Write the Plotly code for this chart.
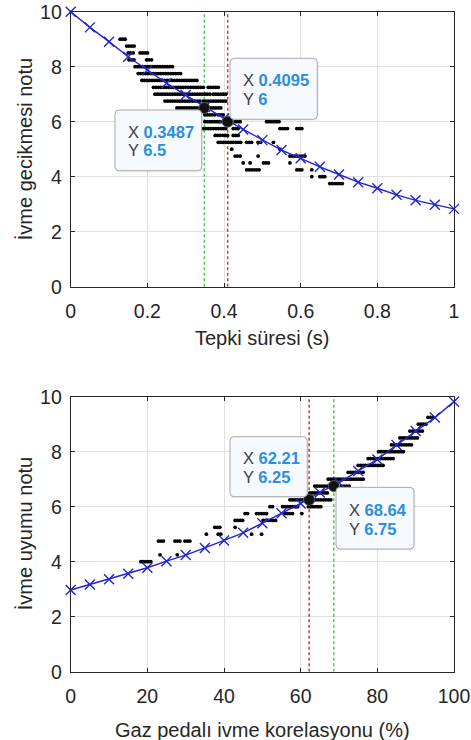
import numpy as np
import plotly.graph_objects as go

W, H = 471, 740

# ---------------- Panel 1: İvme gecikmesi notu vs Tepki süresi ----------------
tepki_curve_x = [0.00, 0.05, 0.10, 0.15, 0.20, 0.25, 0.30, 0.35, 0.40, 0.45, 0.50,
                 0.55, 0.60, 0.65, 0.70, 0.75, 0.80, 0.85, 0.90, 0.95, 1.00]
tepki_curve_y = [10.0, 9.43, 8.91, 8.36, 7.88, 7.40, 6.97, 6.53, 6.12, 5.72, 5.33,
                 4.97, 4.67, 4.36, 4.08, 3.80, 3.58, 3.34, 3.14, 2.98, 2.83]

# measured samples: score level -> runs of reaction times (start, end)
tepki_levels = [9.0, 8.75, 8.5, 8.25, 8.0, 7.75, 7.5, 7.25, 7.0, 6.75, 6.5, 6.25,
                6.0, 5.75, 5.5, 5.25, 5.0, 4.75, 4.5, 4.25, 4.0, 3.75]
tepki_runs = [
    [(0.129, 0.144)],
    [(0.146, 0.165)],
    [(0.150, 0.163), (0.181, 0.198)],
    [(0.152, 0.162), (0.198, 0.214)],
    [(0.168, 0.263)],
    [(0.176, 0.285)],
    [(0.186, 0.330)],
    [(0.216, 0.346), (0.359, 0.385)],
    [(0.220, 0.363), (0.372, 0.407)],
    [(0.246, 0.337), (0.346, 0.407)],
    [(0.277, 0.342), (0.359, 0.394)],
    [(0.350, 0.377), (0.385, 0.400)],
    [(0.350, 0.398), (0.429, 0.442), (0.511, 0.542)],
    [(0.346, 0.407), (0.424, 0.436), (0.546, 0.564), (0.590, 0.603)],
    [(0.377, 0.407), (0.424, 0.436)],
    [(0.385, 0.442), (0.459, 0.472), (0.489, 0.498), (0.529, 0.529)],
    [(0.420, 0.420), (0.546, 0.546)],
    [(0.429, 0.442), (0.489, 0.489), (0.572, 0.611)],
    [(0.450, 0.450), (0.468, 0.468), (0.503, 0.516), (0.572, 0.572)],
    [(0.459, 0.494), (0.590, 0.603), (0.629, 0.629)],
    [(0.629, 0.629), (0.650, 0.664)],
    [(0.676, 0.707)],
]
tepki_step = 0.0065

tepki_tip_x = [0.3487, 0.4095]
tepki_tip_y = [6.5, 6]
tepki_tip_colors = ["#4cc94c", "#cc3a3a"]

# ---------------- Panel 2: İvme uyumu notu vs Gaz pedalı korelasyonu ----------------
gaz_curve_x = [0, 5, 10, 15, 20, 25, 30, 35, 40, 45, 50,
               55, 60, 65, 70, 75, 80, 85, 90, 95, 100]
gaz_curve_y = [2.97, 3.17, 3.36, 3.56, 3.78, 4.02, 4.24, 4.50, 4.77, 5.05, 5.40,
               5.76, 6.12, 6.52, 6.87, 7.30, 7.72, 8.24, 8.75, 9.24, 9.82]

gaz_levels = [4.0, 4.25, 4.75, 5.0, 5.25, 5.5, 5.75, 6.0, 6.25, 6.5, 6.75,
              7.0, 7.25, 7.5, 7.75, 8.0, 8.25, 8.5, 8.75, 9.0, 9.25]
gaz_runs = [
    [(18.3, 20.9)],
    [(23.3, 23.3), (27.8, 28.1)],
    [(22.9, 24.4), (27.2, 28.5), (29.8, 31.1)],
    [(35.4, 35.4), (38.5, 39.0), (47.2, 47.2), (49.8, 49.8)],
    [(37.6, 39.0), (42.9, 42.9)],
    [(42.9, 44.6), (50.2, 53.4)],
    [(45.5, 46.3), (48.5, 51.1), (55.9, 57.7), (60.3, 60.3)],
    [(52.0, 52.9), (55.3, 59.0), (62.0, 65.0)],
    [(57.2, 61.1), (63.3, 67.6)],
    [(62.4, 67.2)],
    [(63.7, 67.6), (70.7, 72.9)],
    [(67.2, 76.3)],
    [(72.4, 76.3)],
    [(75.0, 81.6)],
    [(77.6, 84.2)],
    [(80.3, 86.8)],
    [(83.7, 89.0)],
    [(85.9, 90.7)],
    [(88.5, 91.6)],
    [(90.7, 92.9)],
    [(93.2, 94.7)],
]
gaz_step = 0.65

gaz_tip_x = [62.21, 68.64]
gaz_tip_y = [6.25, 6.75]
gaz_tip_colors = ["#cc3a3a", "#4cc94c"]

# ---------------- styling ----------------
FONT = "Liberation Sans, Arial, sans-serif"
AX = "#262626"
GRID = "#e1e1e1"
BLUE = "#2424cc"
TIP_BLUE = "#2a8fe0"

# plot-area geometry in pixels
PX_L, PX_R = 70.7, 454.0
TOP_T, TOP_B = 11.7, 286.7
BOT_T, BOT_B = 396.7, 671.7


def px2x(px):
    return px / W


def px2y(py):
    return 1 - py / H


def expand(levels, runs, step):
    xs, ys = [], []
    for lv, segs in zip(levels, runs):
        for a, b in segs:
            pts = np.arange(a, b + step * 0.5, step)
            xs.extend(pts.tolist())
            ys.extend([lv] * len(pts))
    return xs, ys


fig = go.Figure()


def add_panel(xa, ya, levels, runs, step, cx, cy, tip_x, tip_y, tip_colors):
    sx, sy = expand(levels, runs, step)
    for vx, col in zip(tip_x, tip_colors):
        fig.add_trace(go.Scatter(x=[vx, vx], y=[0, 10], mode="lines", xaxis=xa, yaxis=ya,
                                 line=dict(color=col, width=1.5, dash="3px,2.5px"),
                                 showlegend=False, hoverinfo="skip"))
    fig.add_trace(go.Scatter(x=sx, y=sy, mode="markers", xaxis=xa, yaxis=ya,
                             marker=dict(color="black", size=3.8),
                             showlegend=False, hoverinfo="skip"))
    fig.add_trace(go.Scatter(x=cx, y=cy, mode="lines+markers", xaxis=xa, yaxis=ya,
                             line=dict(color=BLUE, width=1.4),
                             marker=dict(symbol="x-thin", size=10,
                                         line=dict(color=BLUE, width=1.4)),
                             cliponaxis=False, showlegend=False, hoverinfo="skip"))
    fig.add_trace(go.Scatter(x=tip_x, y=tip_y, mode="markers", xaxis=xa, yaxis=ya,
                             marker=dict(color="#111111", size=11,
                                         line=dict(color="#555555", width=1)),
                             cliponaxis=False, showlegend=False, hoverinfo="skip"))


add_panel("x", "y", tepki_levels, tepki_runs, tepki_step,
          tepki_curve_x, tepki_curve_y, tepki_tip_x, tepki_tip_y, tepki_tip_colors)
add_panel("x2", "y2", gaz_levels, gaz_runs, gaz_step,
          gaz_curve_x, gaz_curve_y, gaz_tip_x, gaz_tip_y, gaz_tip_colors)


def rounded_box(x0, y0, x1, y1, r=4):
    # rounded rectangle in paper coordinates from pixel corners
    pts = [
        f"M {px2x(x0 + r)} {px2y(y0)}",
        f"L {px2x(x1 - r)} {px2y(y0)}",
        f"Q {px2x(x1)} {px2y(y0)} {px2x(x1)} {px2y(y0 + r)}",
        f"L {px2x(x1)} {px2y(y1 - r)}",
        f"Q {px2x(x1)} {px2y(y1)} {px2x(x1 - r)} {px2y(y1)}",
        f"L {px2x(x0 + r)} {px2y(y1)}",
        f"Q {px2x(x0)} {px2y(y1)} {px2x(x0)} {px2y(y1 - r)}",
        f"L {px2x(x0)} {px2y(y0 + r)}",
        f"Q {px2x(x0)} {px2y(y0)} {px2x(x0 + r)} {px2y(y0)}",
        "Z",
    ]
    return dict(type="path", path=" ".join(pts), xref="paper", yref="paper",
                fillcolor="#f6f9fd", line=dict(color="#a9a9a9", width=1), layer="above")


annotations = []
shapes = []


def datatip(box, text_x, line1_y, line2_y, vx, vy):
    x0, y0, x1, y1 = box
    # soft shadow
    shapes.append(dict(type="rect", xref="paper", yref="paper",
                       x0=px2x(x0 + 1.5), x1=px2x(x1 + 1.5), y0=px2y(y0 + 1.5), y1=px2y(y1 + 1.5),
                       fillcolor="rgba(0,0,0,0.06)", line=dict(width=0), layer="above"))
    shapes.append(rounded_box(x0, y0, x1, y1))
    for lab, val, ly in (("X", vx, line1_y), ("Y", vy, line2_y)):
        annotations.append(dict(
            x=px2x(text_x), y=px2y(ly), xref="paper", yref="paper",
            xanchor="left", yanchor="middle", showarrow=False,
            text=f"<span style='color:#404040'>{lab}</span> "
                 f"<span style='color:{TIP_BLUE}'><b>{val:g}</b></span>",
            font=dict(family=FONT, size=16.5)))


datatip((115.0, 110.0, 201.7, 170.7), 125.5, 131.7, 150.5, tepki_tip_x[0], tepki_tip_y[0])
datatip((230.0, 58.3, 317.3, 119.3), 240.5, 80.0, 99.0, tepki_tip_x[1], tepki_tip_y[1])
datatip((230.0, 436.7, 307.3, 496.7), 240.5, 458.3, 477.3, gaz_tip_x[0], gaz_tip_y[0])
datatip((336.0, 487.3, 414.0, 549.0), 347.0, 510.0, 529.3, gaz_tip_x[1], gaz_tip_y[1])

# axis titles
title_font = dict(family=FONT, size=20, color=AX)
annotations += [
    dict(text="Tepki süresi (s)", x=px2x((PX_L + PX_R) / 2), y=px2y(338),
         xref="paper", yref="paper", showarrow=False, xanchor="center", yanchor="middle",
         font=title_font),
    dict(text="Gaz pedalı ivme korelasyonu (%)", x=px2x((PX_L + PX_R) / 2), y=px2y(730),
         xref="paper", yref="paper", showarrow=False, xanchor="center", yanchor="middle",
         font=title_font),
    dict(text="İvme gecikmesi notu", x=px2x(25), y=px2y((TOP_T + TOP_B) / 2),
         xref="paper", yref="paper", showarrow=False, xanchor="center", yanchor="middle",
         textangle=-90, font=title_font),
    dict(text="İvme uyumu notu", x=px2x(25), y=px2y((BOT_T + BOT_B) / 2),
         xref="paper", yref="paper", showarrow=False, xanchor="center", yanchor="middle",
         textangle=-90, font=title_font),
]

axis_common = dict(showgrid=True, gridcolor=GRID, gridwidth=1, zeroline=False,
                   showline=True, linecolor=AX, linewidth=1, mirror="ticks",
                   ticks="inside", ticklen=4, tickcolor=AX, tickwidth=1,
                   tickfont=dict(family=FONT, size=19.5, color=AX), fixedrange=True)
x_common = dict(axis_common, ticklabelstandoff=7)
y_common = dict(axis_common, ticklabelstandoff=4)

fig.update_layout(
    width=W, height=H, autosize=False,
    margin=dict(l=0, r=0, t=0, b=0, pad=0, autoexpand=False),
    paper_bgcolor="white", plot_bgcolor="white",
    showlegend=False,
    xaxis=dict(domain=[px2x(PX_L), px2x(PX_R)], range=[0, 1],
               tickvals=[0, 0.2, 0.4, 0.6, 0.8, 1], ticktext=["0", "0.2", "0.4", "0.6", "0.8", "1"],
               anchor="y", **x_common),
    yaxis=dict(domain=[px2y(TOP_B), px2y(TOP_T)], range=[0, 10], tickvals=[0, 2, 4, 6, 8, 10],
               anchor="x", **y_common),
    xaxis2=dict(domain=[px2x(PX_L), px2x(PX_R)], range=[0, 100], tickvals=[0, 20, 40, 60, 80, 100],
                anchor="y2", **x_common),
    yaxis2=dict(domain=[px2y(BOT_B), px2y(BOT_T)], range=[0, 10], tickvals=[0, 2, 4, 6, 8, 10],
                anchor="x2", **y_common),
    shapes=shapes,
    annotations=annotations,
)

fig.write_html("out.html", config={"displayModeBar": False})
